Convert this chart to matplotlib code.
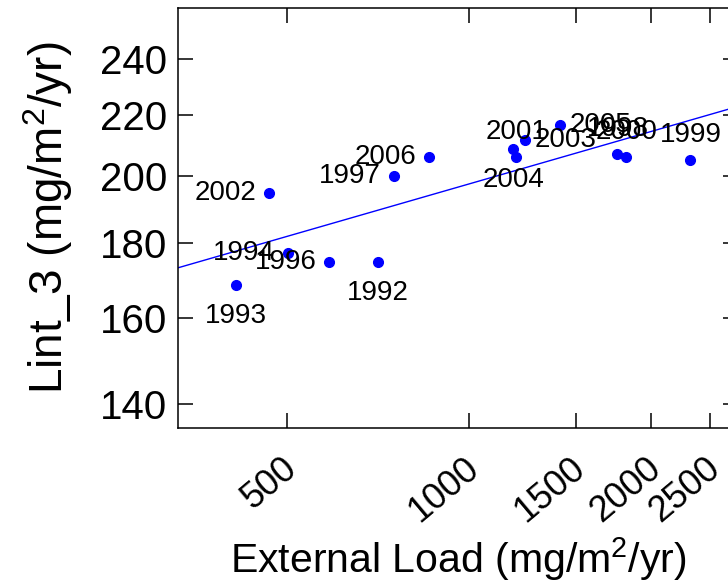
import numpy as np
import matplotlib
matplotlib.use("Agg")
import matplotlib.pyplot as plt
import matplotlib.transforms as mtransforms

plt.rcParams['font.family'] = ['Liberation Sans', 'DejaVu Sans']
plt.rcParams['mathtext.default'] = 'regular'

# donnees
years = ['1993', '2002', '1994', '1996', '1992', '1997', '2006',
         '2004', '2001', '2003', '2005', '1998', '2000', '1999']
ext_load = [412, 467, 502, 587, 707, 751, 859,
            1182, 1196, 1238, 1414, 1757, 1818, 2320]
lint3 = [168.6, 194.7, 177.2, 174.8, 174.8, 199.9, 205.9,
         208.5, 205.9, 211.5, 216.5, 206.9, 205.9, 205.0]
# position de l'etiquette : 1 dessous, 2 gauche, 3 dessus, 4 droite
label_pos = [1, 2, 2, 2, 1, 2, 2, 1, 3, 4, 4, 3, 3, 3]

x_ticks = [500, 1000, 1500, 2000, 2500]
y_ticks = [140, 160, 180, 200, 220, 240]

fig = plt.figure(figsize=(7.28, 5.86), dpi=100)
ax = fig.add_axes([178 / 728, 158 / 586, 560 / 728, 420 / 586])

ax.set_xscale('log')
ax.set_yscale('log')

ax.plot(ext_load, lint3, 'o', color='blue', markersize=7, zorder=3)

# droite de regression en log-log
b, a = np.polyfit(np.log(ext_load), np.log(lint3), 1)
xl = np.array([300, 3000])
ax.plot(xl, np.exp(a + b * np.log(xl)), color='blue', lw=1)

offsets = {1: ((0, -18), 'center', 'top'),
           2: ((-13, 0), 'right', 'center'),
           3: ((0, 12), 'center', 'bottom'),
           4: ((9, 0), 'left', 'center')}
for yr, xv, yv, p in zip(years, ext_load, lint3, label_pos):
    off, ha, va = offsets[p]
    ax.annotate(yr, (xv, yv), xytext=off, textcoords='offset pixels',
                ha=ha, va=va, fontsize=20)

ax.set_xlim(330, 2780)
ax.set_ylim(134.8, 260)

ax.set_xticks(x_ticks)
ax.set_xticklabels([str(t) for t in x_ticks])
ax.set_yticks(y_ticks)
ax.set_yticklabels([str(t) for t in y_ticks])
ax.xaxis.set_minor_locator(matplotlib.ticker.NullLocator())
ax.yaxis.set_minor_locator(matplotlib.ticker.NullLocator())

ax.tick_params(direction='in', length=11, width=1.1, top=True, right=True)
ax.tick_params(axis='y', pad=8, labelsize=29)
ax.tick_params(axis='x', pad=26, labelsize=26)
shift = mtransforms.ScaledTranslation(0.05, 0, fig.dpi_scale_trans)
for lab in ax.get_xticklabels():
    lab.set_rotation(40)
    lab.set_rotation_mode('anchor')
    lab.set_ha('right')
    lab.set_va('center')
    lab.set_transform(lab.get_transform() + shift)
for sp in ax.spines.values():
    sp.set_linewidth(1.1)

ax.set_xlabel('External Load (mg/m$^2$/yr)', fontsize=29.5, labelpad=4)
ax.set_ylabel('Lint_3 (mg/m$^2$/yr)', fontsize=33, labelpad=18)

fig.savefig('out.png', dpi=100)
